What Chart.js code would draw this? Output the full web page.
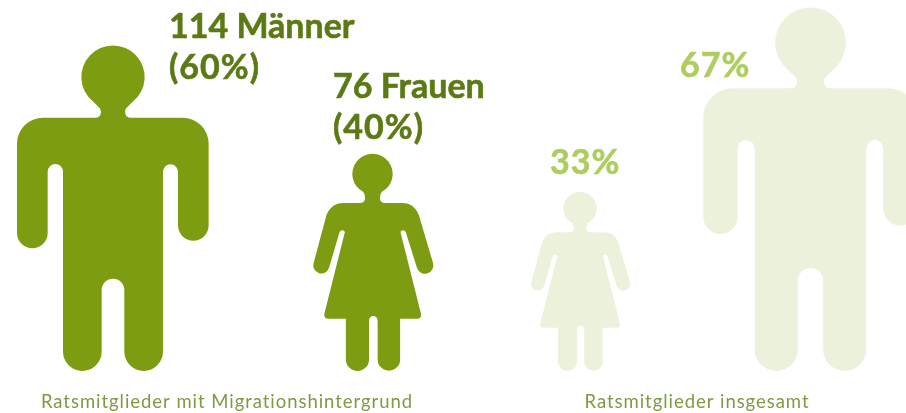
<!DOCTYPE html>
<html lang="de">
<head>
<meta charset="utf-8">
<title>Ratsmitglieder</title>
<script src="https://cdn.jsdelivr.net/npm/chart.js@4"></script>
<style>
  html, body { margin: 0; padding: 0; background: #fff; }
  canvas { display: block; }
</style>
</head>
<body>
<canvas id="chart" width="906" height="413"></canvas>
<script>
// Data
const groups = ['Ratsmitglieder mit Migrationshintergrund', 'Ratsmitglieder insgesamt'];
const menShare = [60, 67];
const womenShare = [40, 33];
const migrantCounts = { men: 114, women: 76 };

// Silhouettes, traced in their own units. The bar rectangle decides how big they get.
const manIcon = {
    path: new Path2D('M285 263 L130 263 A78 78 0 0 0 52 341 L52 609 A46 46 0 0 0 144 609 L144 425 A23 23 0 0 1 190 425 L190 965 A58 58 0 0 0 306 965 L306 780 A34 34 0 0 1 374 780 L374 965 A58 58 0 0 0 490 965 L490 425 A22.5 22.5 0 0 1 535 425 L535 586 A46 46 0 0 0 627 586 L627 341 A78 78 0 0 0 549 263 L395 263 Q376 263 376 245 Q376 236 384 230 L400 214.6 A95 95 0 1 0 280 214.6 L296 230 Q304 236 304 245 Q304 263 285 263 Z'),
    cx: 340, top: 46, height: 977
};
const womanIcon = {
    path: new Path2D('M178 170 L130 170 Q92 170 78 208 L40 350 A23.5 23.5 0 0 0 86 367 L118 258 A8.5 8.5 0 0 1 134 258 L72 505 Q70 520 84 520 L137 520 L137 643 A35 35 0 0 0 207 643 L207 525 A13 13 0 0 1 233 525 L233 643 A34 34 0 0 0 301 643 L301 520 L352 520 Q366 520 364 505 L302 258 A8.5 8.5 0 0 1 318 258 L352 367 A23.5 23.5 0 0 0 400 350 L358 208 Q344 170 308 170 L256 170 Q240 170 240 155 Q240 146 245 137 A61 61 0 1 0 190 137 Q195 146 195 155 Q195 170 178 170 Z'),
    cx: 217.5, top: 22, height: 656
};

const dark = '#7d9c12';
const light = '#ecf1dc';
const darkText = '#5b7a14';
const lightText = '#aecd5f';

// where each figure and its caption sits relative to the group's tick
const layoutMen = [
    { shift: -114, textX: 169, textY: 38 },
    { shift: 113.5, textX: 680, textY: 77 }
];
const layoutWomen = [
    { shift: 145.5, textX: 333, textY: 98 },
    { shift: -117, textX: 550, textY: 174 }
];

function drawFigure(chart, element, index, icon, place) {
    const ctx = chart.ctx;
    const scale = (element.base - element.y) / icon.height;
    const cx = chart.scales.x.getPixelForValue(index) + place.shift;
    ctx.save();
    ctx.translate(cx, element.y);
    ctx.scale(scale, scale);
    ctx.translate(-icon.cx, -icon.top);
    ctx.fillStyle = element.options.backgroundColor;
    ctx.fill(icon.path);
    ctx.restore();
}

function drawCaption(ctx, lines, place, color) {
    ctx.save();
    ctx.font = 'bold 34px Lato';
    ctx.fillStyle = color;
    ctx.strokeStyle = color;
    ctx.lineWidth = 0.6;
    ctx.textAlign = 'left';
    ctx.textBaseline = 'alphabetic';
    lines.forEach((line, i) => {
        // the percent lines run a bit wider than the name lines
        ctx.letterSpacing = line.includes('%') ? '1px' : '0px';
        ctx.fillText(line, place.textX, place.textY + i * 41);
        ctx.strokeText(line, place.textX, place.textY + i * 41);
    });
    ctx.restore();
}

const figures = {
    id: 'figures',
    beforeDraw(chart) {
        chart.ctx.letterSpacing = '0.95px';
    },
    // the bars keep their geometry from the scales, only their look is replaced
    beforeDatasetDraw(chart, args) {
        const icon = args.index === 0 ? manIcon : womanIcon;
        const places = args.index === 0 ? layoutMen : layoutWomen;
        args.meta.data.forEach((element, i) => drawFigure(chart, element, i, icon, places[i]));
        return false;
    },
    afterDatasetsDraw(chart) {
        const ctx = chart.ctx;
        drawCaption(ctx, [migrantCounts.men + ' Männer', '(' + menShare[0] + '%)'], layoutMen[0], darkText);
        drawCaption(ctx, [migrantCounts.women + ' Frauen', '(' + womenShare[0] + '%)'], layoutWomen[0], darkText);
        drawCaption(ctx, [menShare[1] + '%'], layoutMen[1], lightText);
        drawCaption(ctx, [womenShare[1] + '%'], layoutWomen[1], lightText);
    }
};

new Chart(document.getElementById('chart'), {
    type: 'bar',
    data: {
        labels: groups,
        datasets: [
            { label: 'Männer', data: menShare, backgroundColor: [dark, light] },
            { label: 'Frauen', data: womenShare, backgroundColor: [dark, light] }
        ]
    },
    options: {
        responsive: false,
        animation: false,
        layout: { padding: { left: 227, right: 209, top: 2, bottom: 0 } },
        plugins: { legend: { display: false }, tooltip: { enabled: false } },
        scales: {
            x: {
                offset: false,
                afterFit(scale) { scale.height = 42; },
                grid: { display: false, drawTicks: false },
                border: { display: false },
                ticks: {
                    autoSkip: false,
                    maxRotation: 0,
                    padding: 20,
                    color: '#7f9a45',
                    font: { family: 'Lato', size: 18.5 }
                }
            },
            y: { display: false, min: 0, max: 68 }
        }
    },
    plugins: [figures]
});
</script>
</body>
</html>
